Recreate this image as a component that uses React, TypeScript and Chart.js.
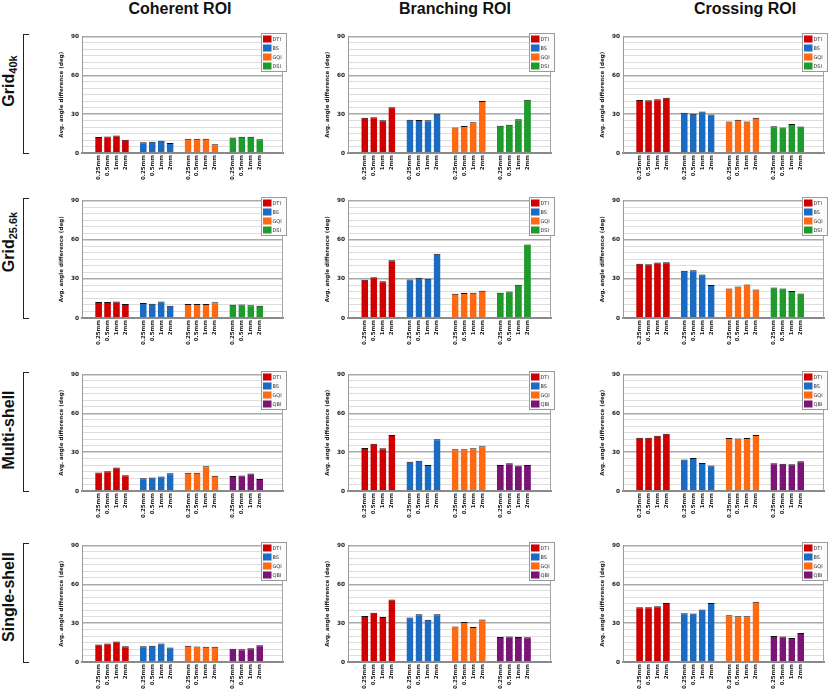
import React, { useEffect, useRef } from 'react';
import { Chart, registerables } from 'chart.js';

Chart.register(...registerables);

// ---------- data ----------
const sizeLabels = ['0.25mm', '0.5mm', '1mm', '2mm'];
const gridMethods = ['DTI', 'BS', 'GQI', 'DSI'];
const shellMethods = ['DTI', 'BS', 'GQI', 'QBI'];
const roiTitles = ['Coherent ROI', 'Branching ROI', 'Crossing ROI'];
const rowMain = ['Grid', 'Grid', 'Multi-shell', 'Single-shell'];
const rowSub = ['40k', '25.6k', '', ''];
const yTitle = 'Avg. angle difference (deg)';

// each array: [DTI, BS, GQI, DSI/QBI] x [0.25mm, 0.5mm, 1mm, 2mm]
const grid40kCoherent = [
  [12.3, 12.8, 13.5, 10.2],
  [8.3, 8.7, 9.5, 7.7],
  [11.0, 11.0, 11.0, 6.8],
  [12.0, 12.6, 12.6, 10.6],
];
const grid40kBranching = [
  [27.2, 27.7, 25.2, 35.4],
  [25.7, 25.4, 25.2, 30.3],
  [19.6, 20.9, 23.7, 40.2],
  [21.1, 21.9, 26.0, 41.2],
];
const grid40kCrossing = [
  [41.0, 40.7, 41.5, 42.7],
  [31.0, 30.3, 32.0, 29.8],
  [24.4, 25.7, 24.4, 27.2],
  [20.6, 19.6, 22.4, 20.4],
];
const grid25kCoherent = [
  [12.2, 12.2, 12.7, 10.7],
  [11.4, 10.9, 12.7, 9.4],
  [10.7, 10.7, 10.7, 12.0],
  [10.2, 10.4, 9.7, 9.4],
];
const grid25kBranching = [
  [29.2, 31.3, 28.2, 44.2],
  [29.5, 30.8, 30.0, 49.3],
  [18.6, 19.1, 19.3, 20.9],
  [19.3, 20.3, 25.4, 56.2],
];
const grid25kCrossing = [
  [41.5, 41.2, 42.5, 42.7],
  [36.1, 36.6, 33.3, 25.2],
  [22.6, 24.2, 25.7, 21.9],
  [23.4, 22.6, 20.6, 18.8],
];
const multiCoherent = [
  [14.2, 15.3, 18.1, 12.2],
  [9.9, 10.4, 11.2, 13.7],
  [14.0, 14.0, 19.1, 11.7],
  [11.5, 12.0, 13.5, 9.2],
];
const multiBranching = [
  [33.3, 36.4, 33.0, 43.2],
  [22.6, 23.4, 20.1, 39.9],
  [32.3, 32.3, 33.0, 34.6],
  [20.1, 21.4, 19.6, 20.1],
];
const multiCrossing = [
  [41.2, 41.2, 42.7, 44.3],
  [24.4, 25.4, 21.6, 19.6],
  [41.0, 40.5, 41.0, 43.3],
  [21.4, 21.1, 20.6, 22.9],
];
const singleCoherent = [
  [13.5, 14.2, 15.8, 12.2],
  [12.2, 12.5, 14.2, 11.2],
  [12.5, 12.0, 11.7, 11.7],
  [10.2, 9.9, 10.7, 13.0],
];
const singleBranching = [
  [35.6, 38.1, 34.8, 48.3],
  [34.3, 36.9, 32.6, 36.9],
  [27.5, 30.8, 27.0, 32.8],
  [19.3, 19.6, 19.3, 19.1],
];
const singleCrossing = [
  [42.2, 42.2, 43.0, 45.5],
  [37.7, 37.4, 40.5, 45.5],
  [36.1, 35.4, 35.4, 46.6],
  [20.1, 19.6, 18.6, 22.4],
];

const panelData = [
  [grid40kCoherent, grid40kBranching, grid40kCrossing],
  [grid25kCoherent, grid25kBranching, grid25kCrossing],
  [multiCoherent, multiBranching, multiCrossing],
  [singleCoherent, singleBranching, singleCrossing],
];
const rowMethods = [gridMethods, gridMethods, shellMethods, shellMethods];

// ---------- styles / layout ----------
const methodColors: Record<string, string> = {
  DTI: '#d10000',
  BS: '#1b6bc3',
  GQI: '#ff6912',
  DSI: '#1f9b2d',
  QBI: '#7a1475',
};
const colLeft = [82, 348, 623];
const colRight = [283, 551, 824];
const rowTop = [35, 199, 373, 544];
const rowBottom = [153, 318, 491, 662];
const headerCenter = [180, 455, 745];
const rowLabelCenter = [81, 242, 430, 597];
const smallFont = '"DejaVu Sans", Verdana, sans-serif';

const framePlugin = {
  id: 'frameAndLegend',
  afterDraw(chart: any) {
    const { ctx, chartArea } = chart;
    ctx.save();
    ctx.strokeStyle = '#a6a6a6';
    ctx.lineWidth = 1;
    ctx.beginPath();
    ctx.moveTo(chartArea.right - 0.5, chartArea.top);
    ctx.lineTo(chartArea.right - 0.5, chartArea.bottom);
    ctx.stroke();
    // legend box, top-right
    const ds = chart.data.datasets;
    const lw = 25;
    const pitch = 9;
    const lh = 2 + (ds.length - 1) * pitch + 7 + 2;
    const x0 = Math.round(chartArea.right + 3 - lw) + 0.5;
    const y0 = Math.round(chartArea.top - 3) + 0.5;
    ctx.fillStyle = '#fbfbfb';
    ctx.fillRect(x0, y0, lw, lh);
    ctx.strokeStyle = '#9a9a9a';
    ctx.strokeRect(x0, y0, lw, lh);
    ctx.font = '5px ' + smallFont;
    ctx.textBaseline = 'middle';
    ctx.textAlign = 'left';
    ds.forEach((d: any, i: number) => {
      const ry = y0 + 2 + i * pitch;
      ctx.fillStyle = d.backgroundColor;
      ctx.fillRect(x0 + 1.5, ry, 8.5, 7);
      ctx.fillStyle = '#333';
      ctx.fillText(d.label, x0 + 11, ry + 3.8);
    });
    ctx.restore();
  },
};

type PanelProps = {
  series: number[][];
  methods: string[];
  left: number;
  right: number;
  top: number;
  bottom: number;
};

function Panel({ series, methods, left, right, top, bottom }: PanelProps) {
  const ref = useRef<HTMLCanvasElement>(null);
  const padL = 24;
  const padT = 5;
  const padR = 4;
  const xH = 32;
  const cl = left - padL;
  const ct = top - padT;
  const w = right - cl + padR;
  const h = bottom - ct + xH;

  useEffect(() => {
    if (!ref.current) return;
    const tickPos: number[] = [];
    methods.forEach((_, g) => sizeLabels.forEach((_s, s) => tickPos.push(g * 5 + s)));
    const datasets = methods.map((m, g) => ({
      label: m,
      data: series[g].map((v, s) => ({ x: g * 5 + s, y: v })),
      backgroundColor: methodColors[m],
      borderColor: '#111',
      borderWidth: { top: 1, left: 0, right: 0, bottom: 0 },
      borderSkipped: 'bottom',
      grouped: false,
      categoryPercentage: 0.8,
      barPercentage: 0.95,
    }));
    const chart = new Chart(ref.current, {
      type: 'bar',
      data: { datasets } as any,
      plugins: [framePlugin],
      options: {
        animation: false,
        responsive: false,
        devicePixelRatio: 1,
        layout: { padding: { left: 0, top: padT, right: padR, bottom: 0 } },
        plugins: { legend: { display: false }, tooltip: { enabled: false } },
        scales: {
          x: {
            type: 'linear',
            min: -1.15,
            max: 19.9,
            afterBuildTicks: (axis: any) => {
              axis.ticks = tickPos.map((v) => ({ value: v }));
            },
            afterFit: (axis: any) => {
              axis.height = xH;
            },
            grid: { display: false, drawTicks: false },
            border: { display: true, color: '#8a8a8a', width: 2 },
            ticks: {
              autoSkip: false,
              minRotation: 90,
              maxRotation: 90,
              padding: 2,
              color: '#222',
              font: { family: smallFont, size: 5.5, weight: 'bold' },
              callback: (_v: any, i: number) => sizeLabels[i % 4],
            },
          },
          y: {
            min: 0,
            max: 90,
            afterFit: (axis: any) => {
              axis.width = padL;
            },
            ticks: {
              stepSize: 5,
              autoSkip: false,
              padding: 3,
              color: '#222',
              font: { family: smallFont, size: 5.8, weight: 'bold' },
              callback: (v: any) => (Number(v) % 30 === 0 ? String(v) : ''),
            },
            grid: {
              drawTicks: false,
              color: (c: any) => (c.tick && c.tick.value % 30 === 0 ? '#a9a9a9' : '#dddddd'),
              lineWidth: (c: any) => (c.tick && c.tick.value % 30 === 0 ? 1.5 : 1),
            },
            border: { display: true, color: '#9a9a9a', width: 1 },
            title: {
              display: true,
              text: yTitle,
              color: '#222',
              padding: 0,
              font: { family: smallFont, size: 5.6, weight: 'bold' },
            },
          },
        },
      } as any,
    });
    return () => chart.destroy();
  }, []);

  return (
    <canvas
      ref={ref}
      width={w}
      height={h}
      style={{ position: 'absolute', left: cl, top: ct, width: w, height: h }}
    />
  );
}

export default function App() {
  return (
    <div
      style={{
        position: 'absolute',
        left: 0,
        top: 0,
        width: 828,
        height: 692,
        overflow: 'hidden',
        background: '#fff',
        fontFamily: '"Liberation Sans", Arial, sans-serif',
        color: '#111',
      }}
    >
      {roiTitles.map((t, c) => (
        <div
          key={t}
          style={{
            position: 'absolute',
            left: headerCenter[c],
            top: 1,
            transform: 'translateX(-50%)',
            fontWeight: 'bold',
            fontSize: 16,
            lineHeight: '16px',
            whiteSpace: 'nowrap',
          }}
        >
          {t}
        </div>
      ))}
      {rowMain.map((m, r) => (
        <React.Fragment key={r}>
          <div
            style={{
              position: 'absolute',
              left: 9,
              top: rowLabelCenter[r],
              transform: 'translate(-50%, -50%) rotate(-90deg)',
              fontWeight: 'bold',
              fontSize: 16,
              lineHeight: '16px',
              whiteSpace: 'nowrap',
            }}
          >
            {m}
            {rowSub[r] ? (
              <span style={{ fontSize: 11, position: 'relative', top: 3 }}>{rowSub[r]}</span>
            ) : null}
          </div>
          <div
            style={{
              position: 'absolute',
              left: 23,
              top: rowTop[r] - 1,
              width: 6,
              height: rowBottom[r] - rowTop[r] + 2,
              boxSizing: 'border-box',
              borderLeft: '1.5px solid #222',
              borderTop: '1.5px solid #222',
              borderBottom: '1.5px solid #222',
            }}
          />
        </React.Fragment>
      ))}
      {panelData.map((row, r) =>
        row.map((series, c) => (
          <Panel
            key={r + '-' + c}
            series={series}
            methods={rowMethods[r]}
            left={colLeft[c]}
            right={colRight[c]}
            top={rowTop[r]}
            bottom={rowBottom[r]}
          />
        ))
      )}
    </div>
  );
}
